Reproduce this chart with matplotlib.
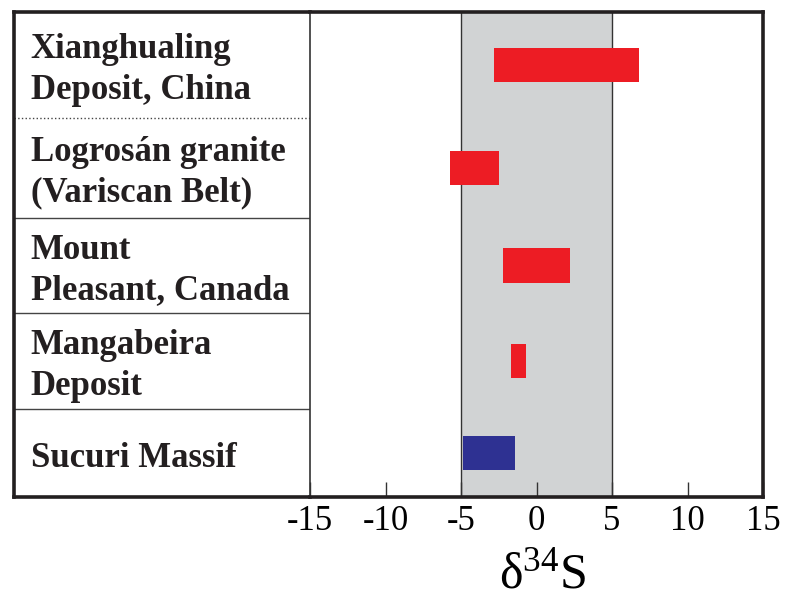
import numpy as np
import matplotlib.pyplot as plt
from matplotlib import transforms

plt.rcParams['font.family'] = ['Liberation Serif', 'DejaVu Serif']
plt.rcParams['mathtext.fontset'] = 'custom'
plt.rcParams['mathtext.rm'] = 'Liberation Serif'

# localities, top to bottom
sites = ['Xianghualing\nDeposit, China',
         'Logrosán granite\n(Variscan Belt)',
         'Mount\nPleasant, Canada',
         'Mangabeira\nDeposit',
         'Sucuri Massif']
# d34S ranges (permil)
d34s_min = [-2.8, -5.7, -2.2, -1.7, -4.9]
d34s_max = [6.8, -2.5, 2.2, -0.7, -1.4]
colors = ['#ed1c24', '#ed1c24', '#ed1c24', '#ed1c24', '#2e3192']
magmatic = [-5, 5]
xticks = [-15, -10, -5, 0, 5, 10, 15]

# row boundaries (rows in the original are not all the same height)
row_edges = np.array([0, 1.093, 2.124, 3.103, 4.093, 5.0])
row_mid = (row_edges[:-1] + row_edges[1:]) / 2

W, H = 792, 598
fig = plt.figure(figsize=(W / 100, H / 100), dpi=100)

# frame in pixels
left, right, top, bottom, divider = 14, 763, 12, 497, 310
axl = fig.add_axes([left / W, (H - bottom) / H, (divider - left) / W, (bottom - top) / H])
ax = fig.add_axes([divider / W, (H - bottom) / H, (right - divider) / W, (bottom - top) / H])

thick = 2.6
thin = 1.0
edge = '#231f20'

# label column
axl.set_xlim(0, 1)
axl.set_ylim(5, 0)
axl.set_xticks([])
axl.set_yticks([])
for s in ['left', 'top', 'bottom']:
    axl.spines[s].set_linewidth(thick)
    axl.spines[s].set_color(edge)
axl.spines['right'].set_visible(False)
for i, e in enumerate(row_edges[1:-1]):
    ls = ':' if i == 0 else '-'
    axl.axhline(e, color='#444444', lw=thin, ls=ls)

# labels sit a little below the row centre
trans = transforms.offset_copy(axl.get_yaxis_transform(), fig=fig, x=0, y=-5, units='dots')
for y, s in zip(row_mid, sites):
    axl.text(0.057, y, s, transform=trans, ha='left', va='center',
             fontsize=25, fontweight='bold', color='#231f20', linespacing=1.3)

# plot area
ax.set_xlim(-15, 15)
ax.set_ylim(5, 0)
ax.axvspan(magmatic[0], magmatic[1], color='#d1d3d4', zorder=0, lw=0)
for v in magmatic:
    ax.axvline(v, color='#333333', lw=thin, zorder=1)
ax.barh(row_mid, np.array(d34s_max) - np.array(d34s_min), left=d34s_min,
        height=0.36, color=colors, zorder=2)

ax.set_yticks([])
ax.set_xticks(xticks)
ax.set_xticklabels([str(t) for t in xticks])
ax.tick_params(axis='x', direction='in', length=10.8, width=thin, color='#333333',
               pad=6, labelsize=25)
ax.spines['left'].set_linewidth(1.2)
ax.spines['left'].set_color('#333333')
for s in ['top', 'right', 'bottom']:
    ax.spines[s].set_linewidth(thick)
    ax.spines[s].set_color(edge)

ax.set_xlabel(r'$\mathrm{δ^{34}S}$', fontsize=36)
ax.xaxis.set_label_coords(0.512, -0.114)

fig.savefig('out.png', dpi=100)
